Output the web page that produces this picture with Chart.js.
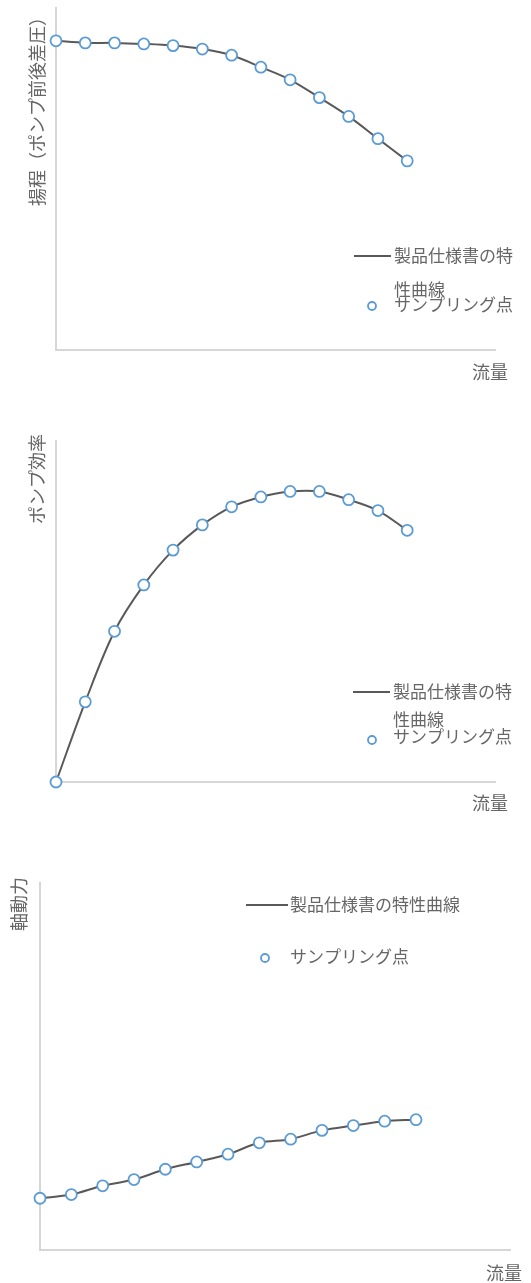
<!DOCTYPE html>
<html>
<head>
<meta charset="utf-8">
<script src="https://cdn.jsdelivr.net/npm/chart.js@4"></script>
<style>
    body { margin: 0; background: #fff; }
    .box { position: absolute; left: 0; width: 531px; }
</style>
</head>
<body>
<div class="box" style="top:0px"><canvas id="head-graph" width="531" height="400"></canvas></div>
<div class="box" style="top:420px"><canvas id="efficiency-graph" width="531" height="400"></canvas></div>
<div class="box" style="top:860px"><canvas id="power-graph" width="531" height="423"></canvas></div>
<script>
// sampling points (flow steps) and values, in % of each axis
const flow = [0, 1, 2, 3, 4, 5, 6, 7, 8, 9, 10, 11, 12]
const head = [90.4, 89.8, 89.8, 89.5, 89.0, 88.0, 86.2, 82.7, 79.0, 73.8, 68.3, 61.8, 55.3]
const efficiency = [0, 23.5, 44.2, 57.8, 68.0, 75.4, 80.7, 83.6, 85.2, 85.2, 82.8, 79.6, 73.8]
const power = [14.1, 15.1, 17.5, 19.2, 22.0, 24.0, 26.1, 29.2, 30.2, 32.6, 33.9, 35.1, 35.5]

const flowRange = [0, 15]
const valueRange = [0, 100]

const curveLabel = "製品仕様書の特性曲線"
const pointLabel = "サンプリング点"
const flowTitle = "流量"

const textColor = '#666666'
const lineColor = '#595959'
const pointColor = '#5b9bd5'
const FONT = '17px "Noto Sans CJK JP", "Noto Sans", sans-serif'
const TITLE_FONT = '18px "Noto Sans CJK JP", "Noto Sans", sans-serif'

function wrapText(ctx, text, maxWidth) {
    if (!maxWidth) return [text]
    var lines = [], cur = ''
    for (const ch of text) {
        if (cur && ctx.measureText(cur + ch).width > maxWidth) {
            lines.push(cur)
            cur = ch
        } else cur += ch
    }
    if (cur) lines.push(cur)
    return lines
}

// axis titles + legend drawn inside the plot like the original sheet
const textPlugin = {
    id: 'textPlugin',
    afterDraw(chart, args, o) {
        const ctx = chart.ctx
        ctx.save()
        ctx.fillStyle = textColor
        ctx.textBaseline = 'middle'

        // y title, rotated, end at top of axis
        ctx.save()
        ctx.font = TITLE_FONT
        ctx.translate(o.yTitleX, o.yTitleTop)
        ctx.rotate(-Math.PI / 2)
        ctx.textAlign = 'right'
        ctx.fillText(o.yTitle, 0, 0)
        ctx.restore()

        // x title
        ctx.font = TITLE_FONT
        ctx.textAlign = 'right'
        ctx.fillText(flowTitle, o.xTitleRight, o.xTitleY)

        // legend: curve
        ctx.font = FONT
        const curveDs = chart.data.datasets[1]
        const pointDs = chart.data.datasets[0]
        ctx.strokeStyle = lineColor
        ctx.lineWidth = 2
        ctx.beginPath()
        ctx.moveTo(o.legend.lineX1, o.legend.curveY)
        ctx.lineTo(o.legend.lineX2, o.legend.curveY)
        ctx.stroke()
        ctx.textAlign = 'left'
        let lines = wrapText(ctx, curveDs.label, o.legend.wrap)
        lines.forEach((l, i) => {
            ctx.fillText(l, o.legend.textX, o.legend.curveY + i * o.legend.wrapGap)
        })

        // legend: points
        ctx.beginPath()
        ctx.arc(o.legend.markerX, o.legend.markerY, 4, 0, Math.PI * 2)
        ctx.fillStyle = '#fff'
        ctx.fill()
        ctx.strokeStyle = pointColor
        ctx.lineWidth = 1.8
        ctx.stroke()
        ctx.fillStyle = textColor
        ctx.fillText(pointDs.label, o.legend.textX, o.legend.pointY)
        ctx.restore()
    }
}

function makeChart(id, values, padding, texts) {
    let points = flow.map((x, i) => ({ x: x, y: values[i] }))
    new Chart(document.getElementById(id).getContext('2d'), {
        type: 'line',
        data: {
            datasets: [{
                label: pointLabel,
                data: points,
                showLine: false,
                pointRadius: 5.5,
                pointBorderWidth: 1.8,
                pointBorderColor: pointColor,
                pointBackgroundColor: '#fff',
                clip: false,
                order: 0
            }, {
                label: curveLabel,
                data: points,
                borderColor: lineColor,
                borderWidth: 2,
                tension: 0.35,
                pointRadius: 0,
                clip: false,
                order: 1
            }]
        },
        options: {
            responsive: false,
            devicePixelRatio: 1,
            animation: false,
            events: [],
            layout: { padding: padding, autoPadding: false },
            scales: {
                x: {
                    type: 'linear',
                    min: flowRange[0],
                    max: flowRange[1],
                    ticks: { display: false },
                    grid: { display: false, drawTicks: false },
                    border: { color: '#d6d6d6', width: 2 }
                },
                y: {
                    min: valueRange[0],
                    max: valueRange[1],
                    ticks: { display: false },
                    grid: { display: false, drawTicks: false },
                    border: { color: '#d6d6d6', width: 2 }
                }
            },
            plugins: {
                legend: { display: false },
                tooltip: { enabled: false },
                textPlugin: texts
            }
        },
        plugins: [textPlugin]
    })
}

makeChart('head-graph', head, { left: 56, right: 36, top: 8, bottom: 50 }, {
    yTitle: "揚程（ポンプ前後差圧）", yTitleX: 37, yTitleTop: 8,
    xTitleRight: 508, xTitleY: 372,
    legend: { lineX1: 354, lineX2: 391, textX: 394, curveY: 256, wrap: 125, wrapGap: 34, markerX: 372, markerY: 306, pointY: 305 }
})

makeChart('efficiency-graph', efficiency, { left: 56, right: 36, top: 21, bottom: 38 }, {
    yTitle: "ポンプ効率", yTitleX: 37, yTitleTop: 14,
    xTitleRight: 508, xTitleY: 383,
    legend: { lineX1: 353, lineX2: 390, textX: 393, curveY: 272, wrap: 125, wrapGap: 28, markerX: 372, markerY: 320, pointY: 317 }
})

makeChart('power-graph', power, { left: 40, right: 21, top: 23, bottom: 33 }, {
    yTitle: "軸動力", yTitleX: 19, yTitleTop: 17,
    xTitleRight: 522, xTitleY: 413,
    legend: { lineX1: 246, lineX2: 288, textX: 290, curveY: 45, wrap: 0, wrapGap: 0, markerX: 265, markerY: 98, pointY: 97 }
})
</script>
</body>
</html>
